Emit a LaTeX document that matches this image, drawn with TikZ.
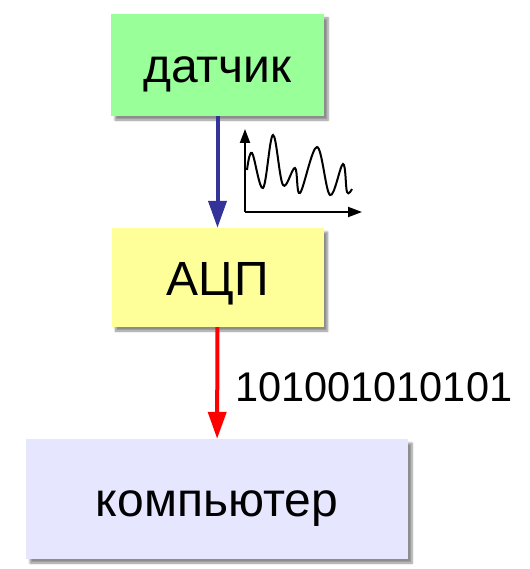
\documentclass[tikz,border=0pt]{standalone}
\usepackage{fontspec}
\setmainfont{Liberation Sans}
\usetikzlibrary{arrows.meta,shadows.blur}
\definecolor{sensorgreen}{HTML}{99FF99}
\definecolor{adcyellow}{HTML}{FFFF99}
\definecolor{pclavender}{HTML}{E6E6FF}
\definecolor{signalblue}{HTML}{333399}
\definecolor{datared}{HTML}{FF0000}

\begin{document}
\begin{tikzpicture}[x=1pt,y=-1pt,
    box/.style={fill=#1, draw=none, inner sep=0pt,
      blur shadow={shadow xshift=4pt, shadow yshift=-4pt, shadow blur steps=6, shadow opacity=45},
      font=\fontsize{48}{52}\selectfont, text height=45pt, text depth=10pt},
    flow/.style={line width=4pt, draw=#1, -{Triangle[width=18pt,length=27pt]}},
    axis/.style={line width=2pt, -{Triangle[width=10pt,length=14pt]}}]
  \useasboundingbox (0,0) rectangle (529,569);

  \node[box=sensorgreen, minimum width=213pt, minimum height=102pt] (sensor) at (217.5,65) {датчик};
  \node[box=adcyellow, minimum width=212pt, minimum height=99pt] (adc) at (217.5,277.5) {АЦП};
  \node[box=pclavender, minimum width=382pt, minimum height=120pt] (pc) at (217,499) {компьютер};

  \draw[flow=signalblue] (sensor) -- (adc);
  \draw[flow=datared] (adc) -- (pc)
    node[midway, anchor=west, inner sep=0pt, xshift=16pt, yshift=-4pt, font=\fontsize{41.5}{45}\selectfont] (bits) {101001010101};

  % analog signal sketch
  \draw[axis] (245,212) -- (245,129);
  \draw[axis] (245,212) -- (362,212);
  \draw[line width=2pt] plot[smooth, tension=0.6] coordinates {(247,170) (252,153) (263,188) (273,135) (283,185) (295,168) (300,193) (317,147) (330,195) (343,164) (347,192) (352,189)};
\end{tikzpicture}
\end{document}
